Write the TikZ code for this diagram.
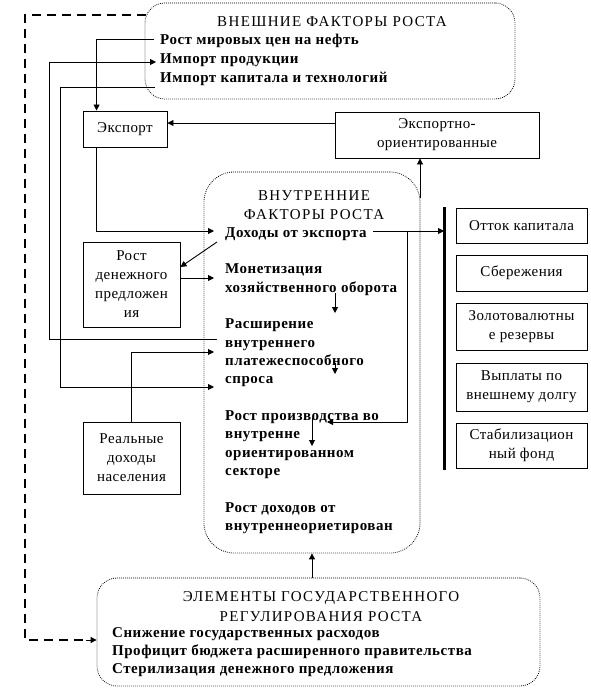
\documentclass[tikz,border=0pt]{standalone}
\usepackage{fontspec}
\setmainfont{Liberation Serif}
\newfontfamily\boxfont{Liberation Serif}[LetterSpace=3]
\newfontfamily\itemfont{Liberation Serif}[LetterSpace=3.5]
\newfontfamily\ttlfont{Liberation Serif}[LetterSpace=9]
\usetikzlibrary{arrows.meta,calc}
\begin{document}
\begin{tikzpicture}[x=1pt,y=-1pt,
  ln/.style={line width=0.9pt},
  arr/.style={ln,-{Triangle[length=6pt,width=6pt]}},
  grp/.style={draw,line width=0.8pt,dash pattern=on 0.8pt off 1.2pt},
  box/.style={draw,line width=0.9pt,inner sep=0pt,align=center,font=\fontsize{15}{19}\boxfont},
  item/.style={anchor=base west,inner sep=0pt,font=\fontsize{15}{17}\itemfont\bfseries},
  ttl/.style={anchor=base,inner sep=0pt,font=\fontsize{15}{19}\ttlfont},
  dsh/.style={line width=2pt,dash pattern=on 9pt off 6pt},
]
\useasboundingbox (0,0) rectangle (591,690);
% groups
\node[grp,rounded corners=20pt,minimum width=370pt,minimum height=96pt] (ext) at (330,51) {};
\node[grp,rounded corners=30pt,minimum width=216pt,minimum height=381pt] (int) at (312,362.5) {};
\node[grp,rounded corners=20pt,minimum width=443pt,minimum height=108pt] (gov) at (318.5,632) {};
% external texts
\node[ttl] (extT) at (332,27) {ВНЕШНИЕ ФАКТОРЫ РОСТА};
\node[item] (e1) at (160,45) {Рост мировых цен на нефть};
\node[item] (e2) at (160,64) {Импорт продукции};
\node[item] (e3) at (160,83) {Импорт капитала и технологий};
% internal texts
\node[ttl] (intT1) at (314,200) {ВНУТРЕННИЕ};
\node[ttl] (intT2) at (314,219) {ФАКТОРЫ РОСТА};
\node[item] (i1) at (225,237) {Доходы от экспорта};
\node[item] (i2a) at (225,273) {Монетизация};
\node[item] (i2b) at (225,292) {хозяйственного оборота};
\node[item] (i3a) at (225,328) {Расширение};
\node[item] (i3b) at (225,347) {внутреннего};
\node[item] (i3c) at (225,365) {платежеспособного};
\node[item] (i3d) at (225,383) {спроса};
\node[item] (i4a) at (225,420) {Рост производства во};
\node[item] (i4b) at (225,438) {внутренне};
\node[item] (i4c) at (225,457) {ориентированном};
\node[item] (i4d) at (225,475) {секторе};
\node[item] (i5a) at (225,512) {Рост доходов от};
\node[item] (i5b) at (225,530) {внутреннеориетирован};
% government texts
\node[ttl] (govT1) at (321,601) {ЭЛЕМЕНТЫ ГОСУДАРСТВЕННОГО};
\node[ttl] (govT2) at (321,621) {РЕГУЛИРОВАНИЯ РОСТА};
\node[item] (g1) at (112,637) {Снижение государственных расходов};
\node[item] (g2) at (112,655) {Профицит бюджета расширенного правительства};
\node[item] (g3) at (112,673) {Стерилизация денежного предложения};
% boxes
\node[box,minimum width=84pt,minimum height=36pt] (exp) at (125,129) {Экспорт};
\node[box,minimum width=204pt,minimum height=46pt] (eo) at (437,135) {Экспортно-\\ориентированные};
\node[box,minimum width=97pt,minimum height=85pt] (rd) at (131.5,284.5) {Рост\\денежного\\предложен\\ия};
\node[box,minimum width=97pt,minimum height=72pt] (ri) at (131.5,458) {Реальные\\доходы\\населения};
\node[box,minimum width=131pt,minimum height=35pt] (r1) at (521.5,225.5) {Отток капитала};
\node[box,minimum width=131pt,minimum height=36pt] (r2) at (521.5,273) {Сбережения};
\node[box,minimum width=131pt,minimum height=47pt] (r3) at (521.5,326.5) {Золотовалютны\\е резервы};
\node[box,minimum width=131pt,minimum height=48pt] (r4) at (521.5,387) {Выплаты по\\внешнему долгу};
\node[box,minimum width=131pt,minimum height=45pt] (r5) at (521.5,445.5) {Стабилизацион\\ный фонд};
% bar
\coordinate (bar1) at (444,207);
\coordinate (bar2) at (444,470);
\draw[line width=3pt] (bar1) -- (bar2);
% connectors
\coordinate (a1) at (154,39);
\draw[arr] (a1) -| ([xshift=14pt]exp.north west);
\coordinate (a2) at (217,339);
\draw[arr] (a2) -- (49,339) -- (49,62) -- (156,62);
\coordinate (a3) at (155,87);
\draw[arr] (a3) -- (60,87) -- (60,387) -- (214,387);
\draw[arr] (eo.west |- 0,123) -- (exp.east |- 0,123);
\draw[arr] ([xshift=14pt]exp.south west) |- (214,231);
\coordinate (a6) at (217,242);
\draw[arr] (a6) -- (rd.east |- 0,267);
\draw[arr] (rd.east |- 0,278) -- (214,278);
\draw[arr] (ri.north |- 0,422) |- (214,352);
\coordinate (a9) at (373,231);
\draw[arr] (a9) -- (bar1 |- 0,231);
\draw[arr] (407,231) |- (327,422);
\coordinate (a11) at (420,198);
\draw[arr] (a11) -- (eo.south -| 420,0);
\draw[arr] (335,293) -- (335,313);
\draw[arr] (335,363) -- (335,374);
\draw[arr] (312,418) -- (312,446);
\draw[arr] (gov.north -| 312,0) -- (int.south -| 312,0);
% dashed feedback
\coordinate (d0) at (146,15);
\draw[dsh] (d0) -- (25,15) -- (25,640) -- (86,640);
\draw[arr] (86,640) -- (gov.west |- 0,640);
\end{tikzpicture}
\end{document}
